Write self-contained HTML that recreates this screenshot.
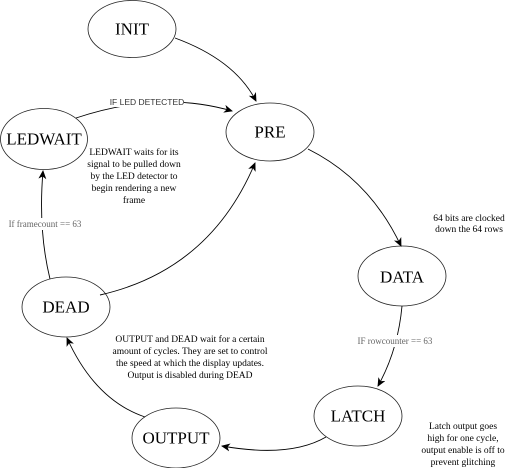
<!DOCTYPE html>
<html><head><meta charset="utf-8"><style>
body{margin:0;background:#fff}
svg{display:block}
text{font-family:"Liberation Serif","Times New Roman","DejaVu Serif",serif}
.n{font-size:17px;text-anchor:middle;dominant-baseline:central}
.t{font-size:9.5px;text-anchor:middle}
.g{font-size:9px;fill:#666;text-anchor:middle}
</style></head><body>
<svg width="512" height="468" viewBox="0 0 512 468" xmlns="http://www.w3.org/2000/svg">
<defs><marker id="a" markerWidth="10" markerHeight="10" refX="8" refY="4" orient="auto" markerUnits="userSpaceOnUse"><path d="M0,0 L9,4 L0,8 L2.5,4 Z" fill="#000"/></marker></defs>
<g fill="#fff" stroke="#222" stroke-width="0.8">
<ellipse cx="132" cy="29" rx="44" ry="28.5"/>
<ellipse cx="270" cy="132" rx="44" ry="29"/>
<ellipse cx="44" cy="139" rx="43.5" ry="30.5"/>
<ellipse cx="402" cy="276" rx="44" ry="30"/>
<ellipse cx="358" cy="416" rx="44" ry="30"/>
<ellipse cx="176" cy="438" rx="44" ry="30"/>
<ellipse cx="66" cy="307" rx="44" ry="30"/>
</g>
<g fill="none" stroke="#000" stroke-width="0.9" marker-end="url(#a)">
<path d="M175,38 Q235,60 256,101"/>
<path d="M76,118 Q160,90 232,111"/>
<path d="M50,279 Q38,230 43,171"/>
<path d="M100,295 Q210,270 255,163"/>
<path d="M308,149 Q370,180 401,246"/>
<path d="M402,306 Q398,350 378,386"/>
<path d="M326,437 Q290,458 222,446"/>
<path d="M145,417 Q95,400 67,338"/>
</g>
<rect x="110" y="96" width="74" height="11" fill="#fff"/>
<text x="147" y="105" style="font-family:'Liberation Sans','DejaVu Sans',sans-serif" font-size="8.5" fill="#333" text-anchor="middle">IF LED DETECTED</text>
<rect x="4" y="218" width="82" height="12" fill="#fff"/>
<text class="g" x="45" y="227">If framecount == 63</text>
<rect x="355" y="335" width="80" height="12" fill="#fff"/>
<text class="g" x="395" y="344">IF rowcounter == 63</text>
<text class="n" x="132" y="29">INIT</text>
<text class="n" x="270" y="132">PRE</text>
<text class="n" x="44" y="139">LEDWAIT</text>
<text class="n" x="402" y="277">DATA</text>
<text class="n" x="358" y="416">LATCH</text>
<text class="n" x="176" y="438">OUTPUT</text>
<text class="n" x="66" y="307">DEAD</text>
<text class="t"><tspan x="134" y="155">LEDWAIT waits for its</tspan><tspan x="134" y="167">signal to be pulled down</tspan><tspan x="134" y="179">by the LED detector to</tspan><tspan x="134" y="191">begin rendering a new</tspan><tspan x="134" y="203">frame</tspan></text>
<text class="t"><tspan x="469" y="221">64 bits are clocked</tspan><tspan x="469" y="232">down the 64 rows</tspan></text>
<text class="t"><tspan x="190" y="342">OUTPUT and DEAD wait for a certain</tspan><tspan x="190" y="354">amount of cycles. They are set to control</tspan><tspan x="190" y="366">the speed at which the display updates.</tspan><tspan x="190" y="378">Output is  disabled during DEAD</tspan></text>
<text class="t"><tspan x="463" y="429">Latch output goes</tspan><tspan x="463" y="441">high for one cycle,</tspan><tspan x="463" y="453">output enable is off to</tspan><tspan x="463" y="465">prevent glitching</tspan></text>
</svg>
</body></html>
